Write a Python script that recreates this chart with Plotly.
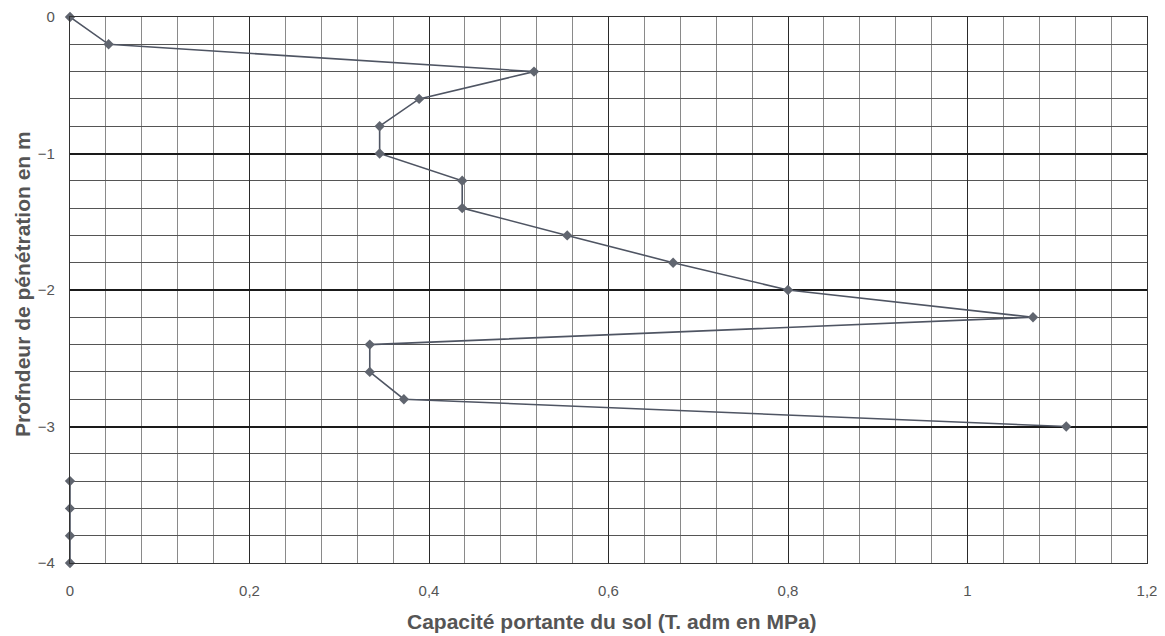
import plotly.graph_objects as go

capacite = [0, 0.043, 0.517, 0.389, 0.345, 0.345, 0.437, 0.437, 0.554, 0.672, 0.80,
            1.073, 0.334, 0.334, 0.372, 1.110, None, 0, 0, 0, 0]
profondeur = [0, -0.2, -0.4, -0.6, -0.8, -1.0, -1.2, -1.4, -1.6, -1.8, -2.0,
              -2.2, -2.4, -2.6, -2.8, -3.0, -3.2, -3.4, -3.6, -3.8, -4.0]
x_ticks = [0, 0.2, 0.4, 0.6, 0.8, 1, 1.2]
y_ticks = [0, -1, -2, -3, -4]
x_title = "Capacité portante du sol (T. adm en MPa)"
y_title = "Profndeur de pénétration en m"

# page body has an 8px margin: the figure is offset by (8, 8)
OFF = 8
W, H = 1165 - OFF, 636 - OFF
L, T = 70 - OFF, 17 - OFF
pw, ph = 1077, 546
R, B = W - L - pw, H - T - ph

fig = go.Figure()
fig.add_trace(go.Scatter(
    x=capacite, y=profondeur, mode="lines+markers",
    line=dict(color="#4f5563", width=1.6),
    marker=dict(symbol="diamond", size=8, color="#60656f"),
    connectgaps=False, showlegend=False, cliponaxis=False,
))

font = "Liberation Sans, Arial, sans-serif"
fig.update_layout(
    width=W, height=H,
    margin=dict(l=L, r=R, t=T, b=B, autoexpand=False),
    paper_bgcolor="white", plot_bgcolor="white",
    separators=", ",
    font=dict(family=font, size=15, color="#555"),
    xaxis=dict(
        range=[0, 1.2], tickvals=x_ticks, tickformat="~g", automargin=False,
        showgrid=True, gridcolor="#2a2a2a", gridwidth=1.3,
        minor=dict(dtick=0.04, showgrid=True, gridcolor="#8a8a8a", gridwidth=1),
        showline=True, linecolor="#333", linewidth=1.2, mirror=True,
        zeroline=False, ticks="", ticklabelstandoff=14,
        tickfont=dict(size=15, color="#555"),
    ),
    yaxis=dict(
        range=[-4, 0], tickvals=y_ticks, automargin=False,
        showgrid=True, gridcolor="#1a1a1a", gridwidth=1.5,
        minor=dict(dtick=0.2, showgrid=True, gridcolor="#555", gridwidth=1),
        showline=True, linecolor="#333", linewidth=1.2, mirror=True,
        zeroline=False, ticks="", ticklabelstandoff=11,
        tickfont=dict(size=15, color="#555"),
    ),
    annotations=[
        dict(text="<b>" + x_title + "</b>", xref="paper", yref="paper",
             x=(612 - 70) / pw, y=-(621 - 563) / ph, xanchor="center", yanchor="middle",
             showarrow=False, font=dict(size=21, color="#555")),
        dict(text="<b>" + y_title + "</b>", xref="paper", yref="paper",
             x=-(70 - 22) / pw, y=(563 - 284) / ph, xanchor="center", yanchor="middle",
             textangle=-90, showarrow=False, font=dict(size=21, color="#555")),
    ],
)
fig.write_html("out.html")
